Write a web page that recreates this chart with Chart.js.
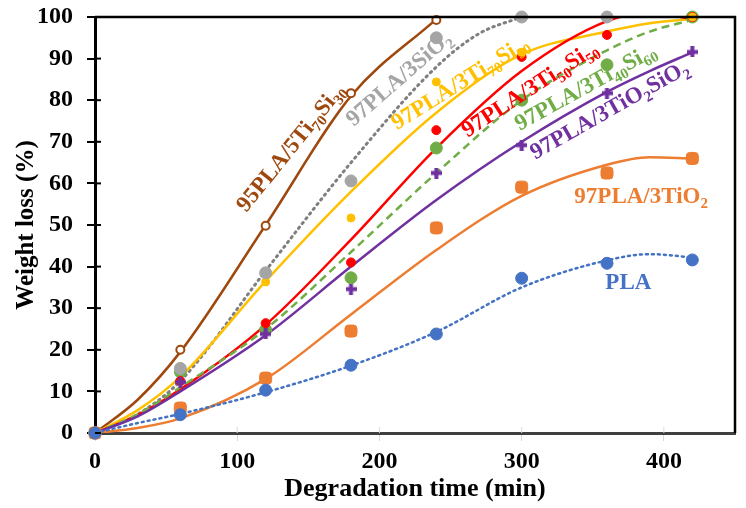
<!DOCTYPE html>
<html>
<head>
<meta charset="utf-8">
<title>Weight loss vs degradation time</title>
<script src="https://cdn.jsdelivr.net/npm/chart.js@4.4.1/dist/chart.umd.min.js"></script>
<style>
  html, body { margin: 0; padding: 0; background: #fff; }
  #wrap { width: 746px; height: 508px; }
</style>
</head>
<body>
<div id="wrap"><canvas id="chart" width="746" height="508"></canvas></div>
<script>
// measured points (degradation time in min, weight loss in %)
var times = [0, 60, 120, 180, 240, 300, 360, 420];
var pla = [0, 4.4, 10.3, 16.3, 23.8, 37.2, 40.8, 41.6];
var pla3TiO2 = [0, 6.0, 13.2, 24.5, 49.3, 59.1, 62.5, 66.0];
var pla3TiO2SiO2 = [0, 12.2, 23.8, 34.6, 62.5, 69.2, 81.7, 91.6];
var pla3Ti40Si60 = [0, 14.7, 24.8, 37.3, 68.5, 80.0, 88.5, 100];
var pla3Ti50Si50 = [0, 12.5, 26.4, 41.0, 72.8, 90.4, 95.7, 100];
var pla3Ti70Si30 = [0, 16.0, 36.3, 51.7, 84.4, 91.5, 100, 100];
var sio2Times = [0, 60, 120, 180, 240, 300, 360];
var pla3SiO2 = [0, 15.5, 38.5, 60.6, 95.0, 100, 100];
var brownTimes = [0, 60, 120, 180, 240];
var pla5Ti70Si30 = [0, 20.0, 49.8, 81.7, 99.3];

// trend lines
var fitTimes = [0, 30, 60, 120, 180, 240, 300, 360, 390, 420];
var plaFit = [0, 2.4, 4.6, 9.8, 16.2, 24.3, 35.0, 41.5, 43.0, 42.2];
var pla3TiO2Fit = [0, 1.2, 3.5, 13.0, 28.5, 44.0, 57.0, 64.5, 66.3, 66.0];
var pla3TiO2SiO2Fit = [0, 4.0, 10.0, 23.5, 40.0, 56.0, 70.0, 82.0, 87.0, 91.5];
var pla3Ti40Si60Fit = [0, 4.5, 11.0, 25.0, 43.5, 62.5, 80.0, 92.0, 96.5, 99.3];
var pla3Ti50Si50Fit = [0, 4.3, 10.5, 26.0, 46.5, 68.5, 87.0, 99.0, 101.0, 99.5];
var pla3Ti70Si30Fit = [0, 5.5, 13.5, 36.5, 58.0, 77.0, 91.0, 96.5, 98.5, 99.5];
var sio2FitTimes = [0, 30, 60, 120, 180, 240, 270, 300];
var pla3SiO2Fit = [0, 4.5, 12.5, 39.0, 65.0, 88.0, 96.0, 100];
var brownFitTimes = [0, 30, 60, 120, 180, 240];
var pla5Ti70Si30Fit = [0, 8.0, 19.5, 50.0, 81.0, 99.5];

// tick labels
var xTicks = [0, 100, 200, 300, 400];
var yTicks = [0, 10, 20, 30, 40, 50, 60, 70, 80, 90, 100];

var FONT = '"Liberation Serif", "Times New Roman", serif';
var C = {
  brown: '#9E480E', gray: '#A5A5A5', grayLine: '#7F7F7F', yellow: '#FFC000',
  red: '#FF0000', green: '#70AD47', purple: '#7030A0', orange: '#ED7D31', blue: '#4472C4'
};

function toXY(xs, ys) {
  return ys.map(function(v, i) { return {x: xs[i], y: v}; });
}

// bold plus marker for the TiO2-SiO2 series
function plusMarker(color) {
  var c = document.createElement('canvas');
  c.width = 11; c.height = 11;
  var g = c.getContext('2d');
  g.fillStyle = color;
  g.fillRect(3.5, 0, 4, 11);
  g.fillRect(0, 3.5, 11, 4);
  return c;
}

function pointSet(data, color, style, radius, extra) {
  var ds = {
    type: 'scatter', data: data, showLine: false, clip: false,
    pointStyle: style, pointRadius: radius, pointBackgroundColor: color,
    pointBorderColor: color, pointBorderWidth: 1, order: 1
  };
  for (var k in extra) ds[k] = extra[k];
  return ds;
}

function fitSet(data, color, dash, width) {
  return {
    type: 'scatter', data: data, showLine: true, borderColor: color,
    borderWidth: width || 2.5, borderDash: dash || [], borderCapStyle: dash && dash[0] < 3 ? 'round' : 'butt',
    pointRadius: 0, cubicInterpolationMode: 'monotone', fill: false, order: 2
  };
}

// labels sitting on the curves, positioned in data units
var seriesLabels = [
  {parts: ['95PLA/5Ti', '_70', 'Si', '_30'], x: 138, y: 68.5, angle: -51, color: C.brown},
  {parts: ['97PLA/3SiO', '_2'], x: 214, y: 85, angle: -41, color: C.gray},
  {parts: ['97PLA/3Ti', '_70', 'Si', '_30'], x: 257, y: 84, angle: -32, color: C.yellow},
  {parts: ['97PLA/3Ti', '_50', 'Si', '_50'], x: 306, y: 82.5, angle: -33, color: C.red},
  {parts: ['97PLA/3Ti', '_40', 'Si', '_60'], x: 345, y: 83, angle: -29, color: C.green},
  {parts: ['97PLA/3TiO', '_2', 'SiO', '_2'], x: 362, y: 77.5, angle: -29.5, color: C.purple},
  {parts: ['97PLA/3TiO', '_2'], x: 384, y: 56.7, angle: 0, color: C.orange},
  {parts: ['PLA'], x: 375, y: 36, angle: 0, color: C.blue}
];

function drawRichText(ctx, parts, cx, cy, angleDeg, color, size) {
  var font = 'bold ' + size + 'px ' + FONT;
  var subFont = 'bold ' + Math.round(size * 0.65) + 'px ' + FONT;
  var total = 0;
  parts.forEach(function(p) {
    var sub = p.charAt(0) === '_';
    ctx.font = sub ? subFont : font;
    total += ctx.measureText(sub ? p.slice(1) : p).width;
  });
  ctx.save();
  ctx.translate(cx, cy);
  ctx.rotate(angleDeg * Math.PI / 180);
  ctx.fillStyle = color;
  ctx.textAlign = 'left';
  ctx.textBaseline = 'middle';
  var x = -total / 2;
  parts.forEach(function(p) {
    var sub = p.charAt(0) === '_';
    var t = sub ? p.slice(1) : p;
    ctx.font = sub ? subFont : font;
    ctx.fillText(t, x, sub ? size * 0.32 : 0);
    x += ctx.measureText(t).width;
  });
  ctx.restore();
}

var decorations = {
  id: 'decorations',
  afterDraw: function(chart) {
    var ctx = chart.ctx;
    var a = chart.chartArea;
    var xs = chart.scales.x, ys = chart.scales.y;
    ctx.save();
    // top and right frame
    ctx.strokeStyle = '#000';
    ctx.lineWidth = 2.5;
    ctx.beginPath();
    ctx.moveTo(a.left, a.top);
    ctx.lineTo(a.right, a.top);
    ctx.lineTo(a.right, a.bottom);
    ctx.stroke();
    // y ticks also poke into the plot
    ctx.lineWidth = 2;
    yTicks.forEach(function(v) {
      var py = ys.getPixelForValue(v);
      ctx.beginPath();
      ctx.moveTo(a.left, py);
      ctx.lineTo(a.left + 6, py);
      ctx.stroke();
    });
    ctx.strokeStyle = '#D9D9D9';
    ctx.lineWidth = 1;
    xTicks.slice(1).forEach(function(v) {
      var px = xs.getPixelForValue(v);
      ctx.beginPath();
      ctx.moveTo(px, a.bottom - 6);
      ctx.lineTo(px, a.bottom);
      ctx.stroke();
    });
    ctx.restore();
    seriesLabels.forEach(function(l) {
      drawRichText(ctx, l.parts, xs.getPixelForValue(l.x), ys.getPixelForValue(l.y), l.angle, l.color, 23);
    });
  }
};

var ctx = document.getElementById('chart');
new Chart(ctx, {
  type: 'scatter',
  data: {
    datasets: [
      fitSet(toXY(fitTimes, plaFit), C.blue, [2, 4], 2.5),
      fitSet(toXY(fitTimes, pla3TiO2Fit), C.orange),
      fitSet(toXY(fitTimes, pla3TiO2SiO2Fit), C.purple),
      fitSet(toXY(fitTimes, pla3Ti40Si60Fit), C.green, [8, 5]),
      fitSet(toXY(fitTimes, pla3Ti50Si50Fit), C.red),
      fitSet(toXY(fitTimes, pla3Ti70Si30Fit), C.yellow),
      fitSet(toXY(sio2FitTimes, pla3SiO2Fit), C.grayLine, [1.5, 4.5], 3),
      fitSet(toXY(brownFitTimes, pla5Ti70Si30Fit), C.brown),
      pointSet(toXY(times, pla), C.blue, 'circle', 6),
      pointSet(toXY(times, pla3TiO2), C.orange, 'rectRounded', 7),
      pointSet(toXY(times, pla3TiO2SiO2), C.purple, plusMarker(C.purple), 5),
      pointSet(toXY(sio2Times, pla3SiO2), C.gray, 'circle', 6),
      pointSet(toXY(times, pla3Ti70Si30), C.yellow, 'circle', 4),
      pointSet(toXY(times, pla3Ti50Si50), C.red, 'circle', 4.5),
      pointSet(toXY(times, pla3Ti40Si60), C.green, 'circle', 6),
      pointSet(toXY(brownTimes, pla5Ti70Si30), C.brown, 'circle', 4,
        {pointBackgroundColor: '#fff', pointBorderWidth: 2})
    ]
  },
  options: {
    responsive: false,
    animation: false,
    layout: { padding: { top: 17, right: 11, left: 0, bottom: 0 } },
    plugins: { legend: { display: false }, tooltip: { enabled: false } },
    scales: {
      x: {
        type: 'linear', min: 0, max: 450,
        afterFit: function(scale) {
          scale.height = 75;
          scale.paddingLeft = 0; scale.paddingRight = 0;
        },
        ticks: {
          stepSize: 100, includeBounds: false, color: '#000', padding: 6,
          font: { family: FONT, size: 24, weight: 'bold' }
        },
        grid: { drawOnChartArea: false, drawTicks: true, tickLength: 8, color: '#D9D9D9', lineWidth: 1 },
        border: { display: true, color: '#404040', width: 3 },
        title: {
          display: true, text: 'Degradation time (min)', color: '#000',
          padding: { top: 0, bottom: 3 },
          font: { family: FONT, size: 26, weight: 'bold' }
        }
      },
      y: {
        min: 0, max: 100,
        afterFit: function(scale) {
          scale.width = 95;
          scale.paddingTop = 0; scale.paddingBottom = 0;
        },
        ticks: {
          stepSize: 10, color: '#000', padding: 14,
          font: { family: FONT, size: 24, weight: 'bold' }
        },
        grid: { drawOnChartArea: false, drawTicks: true, tickLength: 8, color: '#000', lineWidth: 2 },
        border: { display: true, color: '#000', width: 3 },
        title: {
          display: true, text: 'Weight loss (%)', color: '#000',
          padding: { top: 12, bottom: 0 },
          font: { family: FONT, size: 25, weight: 'bold' }
        }
      }
    }
  },
  plugins: [decorations]
});
</script>
</body>
</html>
